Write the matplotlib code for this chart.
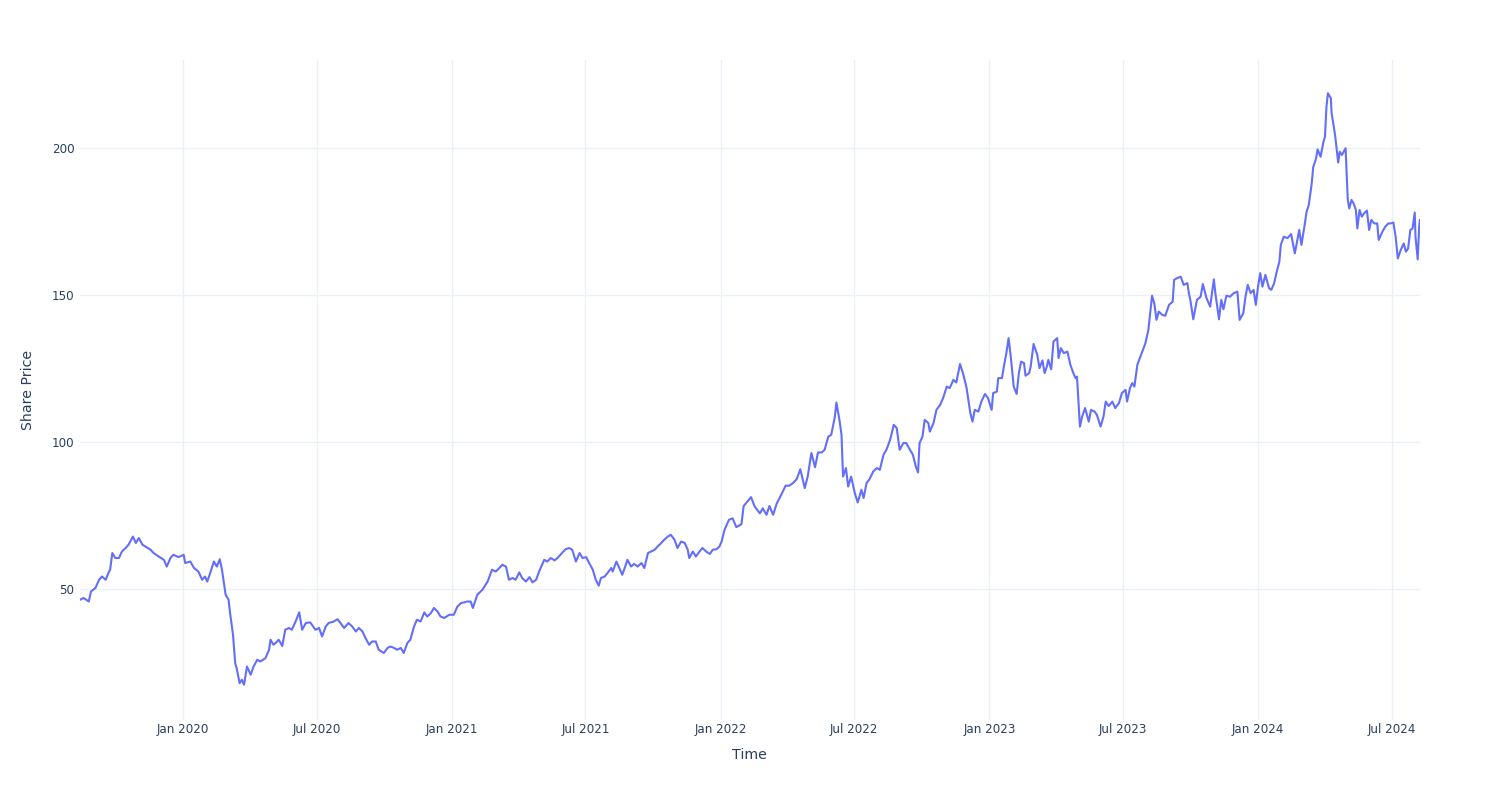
import matplotlib
matplotlib.use("Agg")
import matplotlib.pyplot as plt
import matplotlib.dates as mdates
import pandas as pd

# share price (date, price)
dates = [
    "2019-08-14", "2019-08-19", "2019-08-26", "2019-08-29", "2019-09-04", "2019-09-09", "2019-09-13",
    "2019-09-18", "2019-09-22", "2019-09-24", "2019-09-27", "2019-10-01", "2019-10-06", "2019-10-10",
    "2019-10-15", "2019-10-19", "2019-10-25", "2019-10-29", "2019-11-02", "2019-11-07", "2019-11-11",
    "2019-11-18", "2019-11-22", "2019-11-29", "2019-12-06", "2019-12-10", "2019-12-15", "2019-12-19",
    "2019-12-26", "2020-01-02", "2020-01-04", "2020-01-11", "2020-01-16", "2020-01-22", "2020-01-27",
    "2020-01-31", "2020-02-03", "2020-02-07", "2020-02-12", "2020-02-16", "2020-02-20", "2020-02-23",
    "2020-02-28", "2020-03-03", "2020-03-05", "2020-03-09", "2020-03-12", "2020-03-14", "2020-03-18",
    "2020-03-21", "2020-03-24", "2020-03-28", "2020-04-02", "2020-04-06", "2020-04-11", "2020-04-15",
    "2020-04-22", "2020-04-27", "2020-04-29", "2020-05-03", "2020-05-06", "2020-05-10", "2020-05-15",
    "2020-05-19", "2020-05-24", "2020-05-28", "2020-06-02", "2020-06-07", "2020-06-11", "2020-06-16",
    "2020-06-22", "2020-06-29", "2020-07-04", "2020-07-08", "2020-07-13", "2020-07-17", "2020-07-24",
    "2020-07-29", "2020-08-02", "2020-08-07", "2020-08-13", "2020-08-18", "2020-08-23", "2020-08-27",
    "2020-09-01", "2020-09-05", "2020-09-10", "2020-09-14", "2020-09-19", "2020-09-23", "2020-09-30",
    "2020-10-05", "2020-10-09", "2020-10-14", "2020-10-18", "2020-10-23", "2020-10-27", "2020-11-01",
    "2020-11-05", "2020-11-10", "2020-11-14", "2020-11-19", "2020-11-24", "2020-11-28", "2020-12-03",
    "2020-12-07", "2020-12-12", "2020-12-16", "2020-12-21", "2020-12-28", "2021-01-03", "2021-01-08",
    "2021-01-13", "2021-01-17", "2021-01-21", "2021-01-26", "2021-01-29", "2021-02-04", "2021-02-11",
    "2021-02-18", "2021-02-24", "2021-03-01", "2021-03-06", "2021-03-10", "2021-03-15", "2021-03-19",
    "2021-03-24", "2021-03-28", "2021-04-02", "2021-04-06", "2021-04-11", "2021-04-16", "2021-04-20",
    "2021-04-25", "2021-04-29", "2021-05-06", "2021-05-10", "2021-05-15", "2021-05-20", "2021-05-24",
    "2021-05-29", "2021-06-04", "2021-06-09", "2021-06-13", "2021-06-18", "2021-06-23", "2021-06-27",
    "2021-07-02", "2021-07-06", "2021-07-11", "2021-07-15", "2021-07-19", "2021-07-22", "2021-07-27",
    "2021-07-31", "2021-08-05", "2021-08-07", "2021-08-12", "2021-08-16", "2021-08-20", "2021-08-24",
    "2021-08-27", "2021-09-01", "2021-09-05", "2021-09-10", "2021-09-15", "2021-09-19", "2021-09-24",
    "2021-09-28", "2021-10-03", "2021-10-07", "2021-10-12", "2021-10-16", "2021-10-21", "2021-10-25",
    "2021-10-30", "2021-11-03", "2021-11-08", "2021-11-13", "2021-11-17", "2021-11-19", "2021-11-24",
    "2021-11-28", "2021-12-03", "2021-12-07", "2021-12-12", "2021-12-17", "2021-12-21", "2021-12-26",
    "2021-12-30", "2022-01-02", "2022-01-06", "2022-01-12", "2022-01-17", "2022-01-22", "2022-01-29",
    "2022-02-01", "2022-02-07", "2022-02-11", "2022-02-16", "2022-02-23", "2022-02-27", "2022-03-04",
    "2022-03-08", "2022-03-13", "2022-03-18", "2022-03-24", "2022-03-30", "2022-04-04", "2022-04-09",
    "2022-04-14", "2022-04-19", "2022-04-25", "2022-04-29", "2022-05-04", "2022-05-09", "2022-05-13",
    "2022-05-18", "2022-05-22", "2022-05-27", "2022-05-31", "2022-06-05", "2022-06-07", "2022-06-11",
    "2022-06-14", "2022-06-16", "2022-06-20", "2022-06-23", "2022-06-27", "2022-07-02", "2022-07-06",
    "2022-07-11", "2022-07-14", "2022-07-18", "2022-07-22", "2022-07-27", "2022-08-01", "2022-08-05",
    "2022-08-10", "2022-08-14", "2022-08-19", "2022-08-24", "2022-08-28", "2022-09-01", "2022-09-06",
    "2022-09-10", "2022-09-15", "2022-09-19", "2022-09-23", "2022-09-26", "2022-09-28", "2022-10-02",
    "2022-10-05", "2022-10-10", "2022-10-12", "2022-10-17", "2022-10-21", "2022-10-26", "2022-10-30",
    "2022-11-04", "2022-11-08", "2022-11-13", "2022-11-17", "2022-11-22", "2022-11-26", "2022-12-01",
    "2022-12-06", "2022-12-09", "2022-12-12", "2022-12-17", "2022-12-21", "2022-12-26", "2022-12-30",
    "2023-01-04", "2023-01-06", "2023-01-11", "2023-01-13", "2023-01-18", "2023-01-21", "2023-01-24",
    "2023-01-27", "2023-01-30", "2023-02-03", "2023-02-07", "2023-02-10", "2023-02-13", "2023-02-17",
    "2023-02-19", "2023-02-24", "2023-02-26", "2023-03-02", "2023-03-07", "2023-03-10", "2023-03-14",
    "2023-03-17", "2023-03-20", "2023-03-22", "2023-03-26", "2023-03-29", "2023-04-03", "2023-04-05",
    "2023-04-08", "2023-04-12", "2023-04-17", "2023-04-21", "2023-04-25", "2023-04-28", "2023-04-30",
    "2023-05-04", "2023-05-07", "2023-05-11", "2023-05-16", "2023-05-19", "2023-05-24", "2023-05-27",
    "2023-06-01", "2023-06-05", "2023-06-08", "2023-06-12", "2023-06-17", "2023-06-21", "2023-06-26",
    "2023-06-30", "2023-07-05", "2023-07-07", "2023-07-11", "2023-07-14", "2023-07-17", "2023-07-21",
    "2023-07-26", "2023-08-01", "2023-08-05", "2023-08-10", "2023-08-13", "2023-08-16", "2023-08-19",
    "2023-08-24", "2023-08-28", "2023-09-02", "2023-09-07", "2023-09-09", "2023-09-13", "2023-09-18",
    "2023-09-22", "2023-09-27", "2023-09-29", "2023-10-01", "2023-10-05", "2023-10-10", "2023-10-15",
    "2023-10-18", "2023-10-23", "2023-10-28", "2023-11-02", "2023-11-04", "2023-11-09", "2023-11-12",
    "2023-11-15", "2023-11-19", "2023-11-24", "2023-11-29", "2023-12-04", "2023-12-07", "2023-12-12",
    "2023-12-15", "2023-12-18", "2023-12-22", "2023-12-26", "2023-12-29", "2024-01-01", "2024-01-04",
    "2024-01-07", "2024-01-11", "2024-01-16", "2024-01-19", "2024-01-23", "2024-01-26", "2024-01-30",
    "2024-02-01", "2024-02-05", "2024-02-10", "2024-02-15", "2024-02-20", "2024-02-26", "2024-02-29",
    "2024-03-04", "2024-03-07", "2024-03-10", "2024-03-14", "2024-03-16", "2024-03-20", "2024-03-22",
    "2024-03-26", "2024-03-30", "2024-04-01", "2024-04-03", "2024-04-05", "2024-04-09", "2024-04-10",
    "2024-04-13", "2024-04-15", "2024-04-19", "2024-04-21", "2024-04-24", "2024-04-29", "2024-05-02",
    "2024-05-04", "2024-05-07", "2024-05-10", "2024-05-13", "2024-05-15", "2024-05-18", "2024-05-21",
    "2024-05-24", "2024-05-28", "2024-05-31", "2024-06-03", "2024-06-07", "2024-06-11", "2024-06-13",
    "2024-06-18", "2024-06-22", "2024-06-26", "2024-06-29", "2024-07-03", "2024-07-06", "2024-07-09",
    "2024-07-13", "2024-07-17", "2024-07-20", "2024-07-23", "2024-07-26", "2024-07-29", "2024-08-01",
    "2024-08-02", "2024-08-05", "2024-08-07", "2024-08-08",
]
prices = [
    46.3, 46.9, 45.7, 49.1, 50.3, 53.1, 54.2,
    53.1, 55.6, 56.5, 62.2, 60.5, 60.5, 62.7,
    63.9, 65.0, 67.8, 65.6, 67.3, 65.0, 64.4,
    63.3, 62.2, 61.0, 59.9, 57.6, 60.5, 61.6,
    60.8, 61.6, 58.8, 59.3, 57.1, 55.9, 53.1,
    54.2, 52.5, 55.4, 59.3, 57.6, 60.1, 56.5,
    48.0, 46.3, 41.8, 34.4, 24.7, 23.0, 17.9,
    19.1, 17.4, 23.6, 20.8, 23.6, 25.9, 25.3,
    26.4, 29.3, 32.7, 31.0, 31.6, 32.7, 30.6,
    36.1, 36.7, 36.1, 38.9, 42.0, 36.1, 38.4,
    38.6, 36.1, 36.7, 33.8, 37.2, 38.4, 38.9,
    39.7, 38.4, 36.7, 38.4, 37.2, 35.5, 36.7,
    35.5, 33.3, 31.0, 32.1, 32.1, 29.3, 28.2,
    29.9, 30.4, 29.9, 29.3, 29.9, 28.2, 31.6,
    32.7, 37.2, 39.5, 38.9, 42.0, 40.6, 41.8,
    43.5, 42.3, 40.6, 40.1, 41.2, 41.2, 44.0,
    45.2, 45.4, 45.7, 45.7, 43.5, 48.0, 49.7,
    52.5, 56.5, 55.9, 57.1, 58.2, 57.6, 53.1,
    53.7, 53.1, 55.6, 53.7, 52.5, 54.0, 52.2,
    53.1, 55.9, 59.9, 59.3, 60.5, 59.7, 60.5,
    61.9, 63.5, 63.9, 63.3, 59.3, 62.2, 60.5,
    60.8, 58.8, 56.5, 53.1, 51.1, 53.7, 54.2,
    55.4, 57.1, 55.9, 59.3, 57.1, 54.8, 57.6,
    59.9, 57.6, 58.5, 57.6, 58.8, 57.1, 62.2,
    62.7, 63.3, 64.4, 65.6, 66.7, 67.8, 68.4,
    66.7, 63.9, 66.1, 65.6, 63.3, 60.5, 62.7,
    61.0, 62.7, 63.9, 62.7, 61.9, 63.3, 63.5,
    64.4, 66.1, 70.1, 73.5, 74.0, 71.0, 72.0,
    78.2, 80.0, 81.2, 78.0, 75.7, 77.4, 75.2,
    78.2, 75.2, 79.1, 82.0, 85.1, 85.1, 86.0,
    87.3, 90.7, 84.3, 88.2, 96.2, 91.4, 96.4,
    96.4, 97.3, 101.8, 102.4, 108.6, 113.4, 107.7,
    102.4, 88.2, 91.1, 84.8, 88.2, 82.6, 79.4,
    83.7, 80.9, 86.0, 87.3, 89.9, 91.1, 90.5,
    95.6, 97.3, 100.7, 105.8, 104.7, 97.3, 99.6,
    99.6, 97.3, 95.6, 91.6, 89.6, 99.6, 101.8,
    107.5, 106.4, 103.5, 106.4, 110.9, 112.6, 114.9,
    118.8, 118.3, 121.1, 120.2, 126.5, 123.4, 118.3,
    109.8, 106.9, 110.9, 110.3, 113.7, 116.3, 114.9,
    110.9, 116.6, 117.1, 121.7, 121.7, 126.2, 130.2,
    135.3, 129.0, 118.8, 116.3, 123.4, 127.3, 126.8,
    122.5, 123.4, 125.6, 133.3, 129.6, 125.1, 127.7,
    123.4, 125.6, 127.9, 124.7, 134.1, 135.3, 128.5,
    131.9, 130.2, 130.7, 126.2, 123.4, 121.7, 122.2,
    105.2, 108.6, 111.5, 106.9, 110.9, 110.3, 109.2,
    105.2, 108.6, 113.7, 112.2, 113.7, 111.5, 113.2,
    116.6, 117.7, 113.7, 118.3, 120.0, 118.8, 126.2,
    129.6, 133.6, 138.1, 149.7, 147.2, 141.5, 144.3,
    143.2, 142.9, 146.6, 147.7, 155.1, 155.7, 156.2,
    153.4, 154.0, 150.6, 148.3, 141.7, 148.3, 149.4,
    153.7, 148.9, 146.0, 155.3, 150.6, 141.7, 148.3,
    145.1, 149.7, 149.4, 150.6, 151.1, 141.5, 143.8,
    149.4, 153.4, 150.6, 151.7, 146.6, 152.8, 157.4,
    152.8, 156.8, 152.3, 151.7, 154.0, 157.4, 161.3,
    167.0, 169.8, 169.3, 170.7, 164.1, 172.1, 167.0,
    173.2, 178.3, 180.6, 188.0, 193.4, 196.5, 199.5,
    197.0, 202.1, 203.8, 214.0, 218.6, 216.9, 211.8,
    207.2, 203.8, 195.0, 198.7, 197.6, 199.9, 182.3,
    179.4, 182.3, 181.1, 178.9, 172.6, 178.9, 176.6,
    177.7, 178.7, 172.1, 175.5, 174.3, 174.3, 168.7,
    171.5, 173.2, 174.3, 174.3, 174.6, 169.8, 162.4,
    165.3, 167.5, 164.7, 165.8, 172.1, 172.6, 178.0,
    169.8, 162.1, 173.2, 175.5,
]

df = pd.DataFrame({"Time": pd.to_datetime(dates), "Share Price": prices})

txt = "#2a3f5f"
grid = "#ebf0f8"

fig = plt.figure(figsize=(15, 8), dpi=100)
ax = fig.add_axes([0.0533, 0.1, 0.8933, 0.825])
ax.plot(df["Time"], df["Share Price"], color="#636efa", lw=1.5, zorder=3)

ax.set_xlim(df["Time"].iloc[0], df["Time"].iloc[-1])
ax.set_ylim(5.4, 229.9)
ax.set_yticks([50, 100, 150, 200])
ax.xaxis.set_major_locator(mdates.MonthLocator(bymonth=[1, 7]))
ax.xaxis.set_major_formatter(mdates.DateFormatter("%b %Y"))

ax.grid(True, color=grid, lw=1)
ax.set_axisbelow(True)
for s in ax.spines.values():
    s.set_visible(False)
ax.tick_params(length=0, labelsize=8.6, colors=txt)
ax.tick_params(axis="x", pad=2)
ax.tick_params(axis="y", pad=4)
ax.set_xlabel("Time", fontsize=10.2, color=txt, labelpad=9)
ax.set_ylabel("Share Price", fontsize=10.2, color=txt, labelpad=12)

plt.savefig("out.png", dpi=100)
